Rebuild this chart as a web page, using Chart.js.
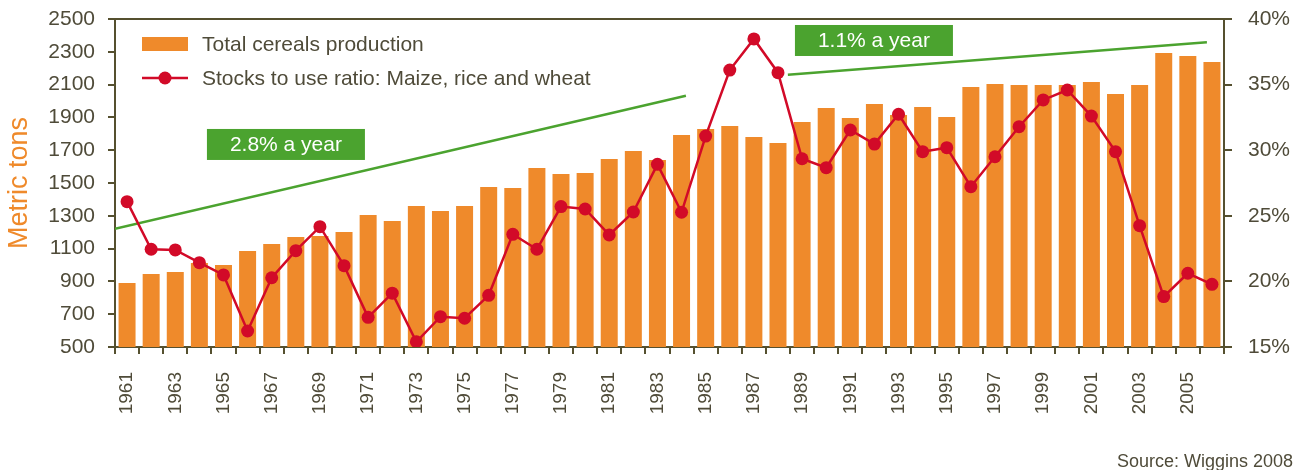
<!DOCTYPE html>
<html>
<head>
<meta charset="utf-8">
<title>Cereals production and stocks to use ratio</title>
<script src="https://cdn.jsdelivr.net/npm/chart.js@4.4.1/dist/chart.umd.min.js"></script>
<style>
  html, body { margin: 0; padding: 0; background: #fff; }
  #wrap { width: 1303px; height: 470px; }
</style>
</head>
<body>
<div id="wrap"><canvas id="cereals" width="1303" height="470"></canvas></div>
<script>
// Years on the category axis
const years = [
  1961, 1962, 1963, 1964, 1965, 1966, 1967, 1968, 1969, 1970,
  1971, 1972, 1973, 1974, 1975, 1976, 1977, 1978, 1979, 1980,
  1981, 1982, 1983, 1984, 1985, 1986, 1987, 1988, 1989, 1990,
  1991, 1992, 1993, 1994, 1995, 1996, 1997, 1998, 1999, 2000,
  2001, 2002, 2003, 2004, 2005, 2006
];

// Total cereals production (left axis, metric tons)
const production = [
  890, 945, 957, 1012, 1000, 1085, 1128, 1171, 1177, 1201,
  1305, 1268, 1360, 1329, 1360, 1476, 1470, 1591, 1555, 1561,
  1646, 1695, 1640, 1793, 1829, 1848, 1780, 1744, 1872, 1957,
  1896, 1982, 1915, 1963, 1902, 2085, 2104, 2098, 2098, 2098,
  2116, 2043, 2098, 2293, 2274, 2238
];

// Stocks to use ratio, maize + rice + wheat (right axis, %)
const stocksRatio = [
  26.08, 22.45, 22.4, 21.43, 20.49, 16.22, 20.28, 22.34, 24.17, 21.2,
  17.26, 19.1, 15.4, 17.31, 17.19, 18.94, 23.59, 22.45, 25.7, 25.52,
  23.54, 25.29, 28.92, 25.27, 31.08, 36.11, 38.48, 35.91, 29.35, 28.67,
  31.54, 30.47, 32.74, 29.89, 30.19, 27.22, 29.5, 31.79, 33.83, 34.59,
  32.6, 29.89, 24.25, 18.84, 20.62, 19.78
];

// Trend lines, endpoints as [year, tons]
const trendEarly = [[1960.5, 1221], [1984.18, 2032]];
const trendLate = [[1988.41, 2160], [2005.79, 2358]];

// Trend labels: text, centre year, centre value
const trendLabels = [
  { text: '2.8% a year', year: 1967.59, value: 1735 },
  { text: '1.1% a year', year: 1991.98, value: 2369 }
];

const leftTicks = [500, 2500, 200];
const rightTicks = [15, 40, 5];

const ORANGE = '#ef8a2b';
const RED = '#d20a28';
const GREEN = '#4ba32f';
const AXIS = '#55502f';
const TEXT = '#4f4b39';
const FONT = '"Liberation Sans", Arial, sans-serif';

function toPoints(pairs) {
  return pairs.map(function (p) { return { x: p[0], y: p[1] }; });
}

// frame line along the top of the plot
const topFrame = {
  id: 'topFrame',
  beforeDatasetsDraw(chart) {
    const a = chart.chartArea;
    const ctx = chart.ctx;
    ctx.save();
    ctx.strokeStyle = AXIS;
    ctx.lineWidth = 2;
    ctx.beginPath();
    ctx.moveTo(a.left - 1, a.top);
    ctx.lineTo(a.right + 1, a.top);
    ctx.stroke();
    ctx.restore();
  }
};

// green boxes with the growth rates
const trendBoxes = {
  id: 'trendBoxes',
  afterDatasetsDraw(chart) {
    const ctx = chart.ctx;
    const xs = chart.scales.xt;
    const ys = chart.scales.y;
    ctx.save();
    ctx.font = '21px ' + FONT;
    ctx.textAlign = 'center';
    ctx.textBaseline = 'middle';
    trendLabels.forEach(function (t) {
      const cx = xs.getPixelForValue(t.year);
      const cy = ys.getPixelForValue(t.value);
      ctx.fillStyle = GREEN;
      ctx.fillRect(cx - 79, cy - 15.5, 158, 31);
      ctx.fillStyle = '#ffffff';
      ctx.fillText(t.text, cx, cy + 1);
    });
    ctx.restore();
  }
};

// legend inside the plot, top left; line entry gets line + marker
const insideLegend = {
  id: 'insideLegend',
  afterDatasetsDraw(chart) {
    const ctx = chart.ctx;
    const a = chart.chartArea;
    const ds = chart.data.datasets;
    const x0 = a.left + 27;
    const y1 = a.top + 25;
    const y2 = a.top + 59;
    ctx.save();
    ctx.fillStyle = ds[0].backgroundColor;
    ctx.fillRect(x0, y1 - 7, 46, 14);

    ctx.strokeStyle = ds[1].borderColor;
    ctx.lineWidth = 2.5;
    ctx.beginPath();
    ctx.moveTo(x0, y2);
    ctx.lineTo(x0 + 46, y2);
    ctx.stroke();
    ctx.fillStyle = ds[1].pointBackgroundColor;
    ctx.beginPath();
    ctx.arc(x0 + 23, y2, 6.5, 0, Math.PI * 2);
    ctx.fill();

    ctx.font = '21px ' + FONT;
    ctx.fillStyle = TEXT;
    ctx.textAlign = 'left';
    ctx.textBaseline = 'middle';
    ctx.fillText(ds[0].label, x0 + 60, y1 + 1);
    ctx.fillText(ds[1].label, x0 + 60, y2 + 1);
    ctx.restore();
  }
};

const sourceNote = {
  id: 'sourceNote',
  afterDraw(chart) {
    const ctx = chart.ctx;
    ctx.save();
    ctx.font = '18px ' + FONT;
    ctx.fillStyle = TEXT;
    ctx.textAlign = 'right';
    ctx.textBaseline = 'alphabetic';
    ctx.fillText('Source: Wiggins 2008', 1293, 467);
    ctx.restore();
  }
};

const axisGrid = function (len) {
  return { display: true, drawOnChartArea: false, drawTicks: true, tickLength: len, color: AXIS, lineWidth: 2 };
};

// fixed axis band widths; drop the label overhang so the plot spans the full height
function fixWidth(w) {
  return function (s) {
    s.width = w;
    s.paddingTop = 0;
    s.paddingBottom = 0;
  };
}

new Chart(document.getElementById('cereals'), {
  type: 'bar',
  data: {
    labels: years.map(String),
    datasets: [
      {
        type: 'bar',
        label: 'Total cereals production',
        data: production,
        backgroundColor: ORANGE,
        borderWidth: 0,
        grouped: false,
        barPercentage: 0.705,
        categoryPercentage: 1,
        xAxisID: 'x',
        yAxisID: 'y',
        order: 3
      },
      {
        type: 'line',
        label: 'Stocks to use ratio: Maize, rice and wheat',
        data: stocksRatio,
        borderColor: RED,
        borderWidth: 2.5,
        pointRadius: 6.5,
        pointBackgroundColor: RED,
        pointBorderWidth: 0,
        tension: 0,
        xAxisID: 'x',
        yAxisID: 'y2',
        order: 1
      },
      {
        type: 'line',
        label: 'trend 1961-1984',
        data: toPoints(trendEarly),
        borderColor: GREEN,
        borderWidth: 2.5,
        pointRadius: 0,
        xAxisID: 'xt',
        yAxisID: 'y',
        order: 2
      },
      {
        type: 'line',
        label: 'trend 1988-2006',
        data: toPoints(trendLate),
        borderColor: GREEN,
        borderWidth: 2.5,
        pointRadius: 0,
        xAxisID: 'xt',
        yAxisID: 'y',
        order: 2
      }
    ]
  },
  options: {
    responsive: false,
    devicePixelRatio: 1,
    animation: false,
    layout: { padding: { top: 19, left: 0, right: 0, bottom: 0 } },
    plugins: {
      legend: { display: false },
      tooltip: { enabled: false }
    },
    scales: {
      x: {
        type: 'category',
        position: 'bottom',
        offset: true,
        grid: Object.assign(axisGrid(7), { offset: true }),
        border: { display: true, color: AXIS, width: 2 },
        ticks: {
          autoSkip: false,
          minRotation: 90,
          maxRotation: 90,
          padding: 18,
          color: TEXT,
          font: { family: FONT, size: 19 },
          callback: function (v, i) { return i % 2 === 0 ? String(years[i]) : ''; }
        },
        afterFit: function (s) { s.height = 123; }
      },
      xt: {
        type: 'linear',
        display: false,
        offset: false,
        grid: { offset: false },
        min: years[0] - 0.5,
        max: years[years.length - 1] + 0.5
      },
      y: {
        type: 'linear',
        position: 'left',
        min: leftTicks[0],
        max: leftTicks[1],
        grid: axisGrid(7),
        border: { display: true, color: AXIS, width: 2 },
        ticks: {
          stepSize: leftTicks[2],
          padding: 13,
          color: TEXT,
          font: { family: FONT, size: 21 },
          callback: function (v) { return String(v); }
        },
        title: {
          display: true,
          text: 'Metric tons',
          color: ORANGE,
          font: { family: FONT, size: 27 },
          padding: { top: 3, bottom: 0 }
        },
        afterFit: fixWidth(115)
      },
      y2: {
        type: 'linear',
        position: 'right',
        min: rightTicks[0],
        max: rightTicks[1],
        grid: axisGrid(8),
        border: { display: true, color: AXIS, width: 2 },
        ticks: {
          stepSize: rightTicks[2],
          padding: 16,
          color: TEXT,
          font: { family: FONT, size: 21 },
          callback: function (v) { return v + '%'; }
        },
        afterFit: fixWidth(79)
      }
    }
  },
  plugins: [topFrame, trendBoxes, insideLegend, sourceNote]
});
</script>
</body>
</html>
